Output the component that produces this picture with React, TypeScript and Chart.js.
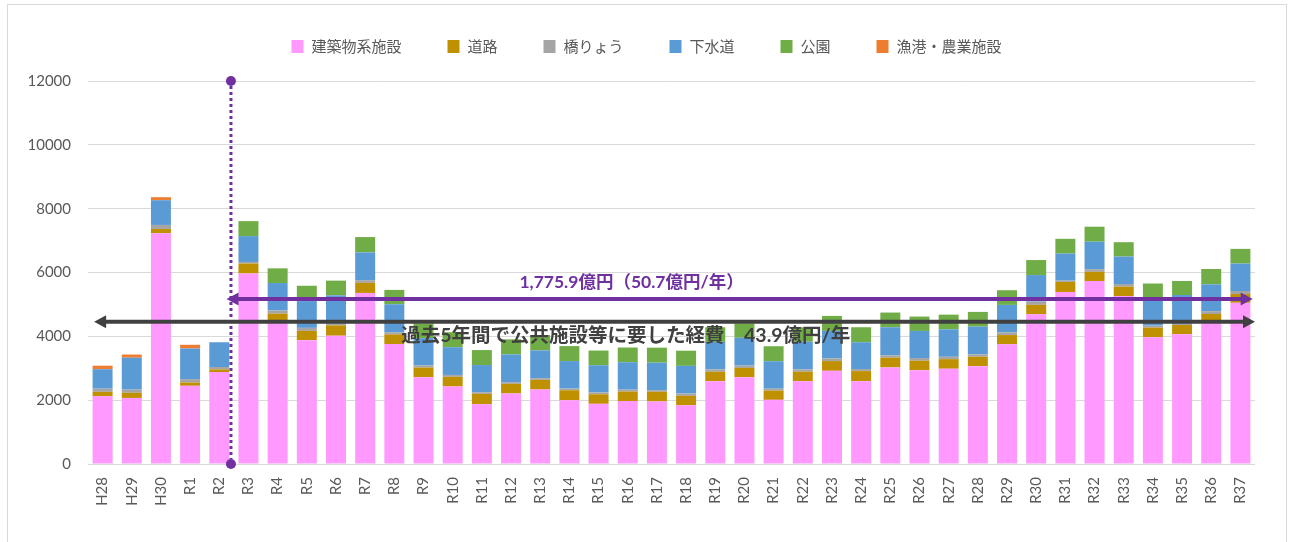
import React, { useEffect, useRef } from "react";
import { Chart, registerables } from "chart.js";

Chart.register(...registerables);

const labels = [
  "H28", "H29", "H30", "R1", "R2", "R3", "R4", "R5", "R6", "R7",
  "R8", "R9", "R10", "R11", "R12", "R13", "R14", "R15", "R16", "R17",
  "R18", "R19", "R20", "R21", "R22", "R23", "R24", "R25", "R26", "R27",
  "R28", "R29", "R30", "R31", "R32", "R33", "R34", "R35", "R36", "R37",
];

const buildings = [
  2120, 2070, 7230, 2450, 2880, 5970, 4420, 3880, 4020, 5360,
  3760, 2720, 2430, 1870, 2210, 2335, 2000, 1885, 1970, 1960,
  1840, 2595, 2720, 2010, 2595, 2920, 2595, 3025, 2940, 2985,
  3065, 3750, 4690, 5390, 5730, 5260, 3970, 4065, 4420, 5050,
];
const roads = [
  140, 160, 135, 105, 85, 310, 290, 290, 325, 315,
  300, 300, 300, 325, 300, 300, 310, 300, 300, 300,
  295, 295, 290, 290, 295, 305, 315, 305, 295, 300,
  295, 290, 295, 315, 290, 295, 300, 290, 280, 275,
];
const bridges = [
  100, 100, 125, 105, 75, 50, 100, 95, 50, 85,
  65, 70, 60, 55, 55, 55, 55, 60, 60, 55,
  75, 75, 75, 60, 75, 85, 65, 75, 85, 75,
  75, 85, 105, 40, 85, 85, 65, 40, 90, 95,
];
const sewers = [
  610, 1000, 775, 960, 775, 810, 860, 840, 890, 870,
  880, 855, 870, 850, 870, 870, 860, 850, 860, 860,
  865, 860, 870, 860, 865, 860, 840, 880, 850, 860,
  870, 860, 830, 850, 860, 860, 880, 900, 840, 860,
];
const parks = [
  0, 0, 0, 0, 0, 470, 460, 480, 460, 480,
  450, 460, 470, 470, 470, 480, 470, 460, 460, 470,
  475, 460, 450, 470, 455, 470, 470, 460, 450, 460,
  460, 460, 470, 460, 470, 450, 440, 440, 480, 460,
];
const fisheries = [
  110, 100, 95, 115, 0, 0, 0, 0, 0, 0,
  0, 0, 0, 0, 0, 0, 0, 0, 0, 0,
  0, 0, 0, 0, 0, 0, 0, 0, 0, 0,
  0, 0, 0, 0, 0, 0, 0, 0, 0, 0,
];

const seriesNames = ["建築物系施設", "道路", "橋りょう", "下水道", "公園", "漁港・農業施設"];
const seriesColors = ["#FF99FF", "#BF9000", "#A5A5A5", "#5B9BD5", "#70AD47", "#ED7D31"];
const seriesData = [buildings, roads, bridges, sewers, parks, fisheries];

const yTicks = [0, 2000, 4000, 6000, 8000, 10000, 12000];

// annotation anchors in data units (category index / value)
const dividerIndex = 4.4;
const totalArrow = { value: 5166, from: 4.25, to: 39.42, text: "1,775.9億円（50.7億円/年）", textIndex: 18.13, textValue: 5690 };
const pastArrow = { value: 4455, from: -0.29, to: 39.5, text: "過去5年間で公共施設等に要した経費　43.9億円/年", textIndex: 17.93, textValue: 4010 };

const PURPLE = "#7030A0";
const DARK = "#404040";
const LATIN = "Lato, 'Noto Sans CJK JP', sans-serif";
const CJK = "'Noto Sans CJK JP', sans-serif";

function drawArrow(ctx: CanvasRenderingContext2D, x1: number, x2: number, y: number, color: string) {
  const hl = 12, hw = 6.5;
  ctx.save();
  ctx.strokeStyle = color;
  ctx.fillStyle = color;
  ctx.lineWidth = 4;
  ctx.beginPath();
  ctx.moveTo(x1 + hl - 1, y);
  ctx.lineTo(x2 - hl + 1, y);
  ctx.stroke();
  ctx.beginPath();
  ctx.moveTo(x1, y);
  ctx.lineTo(x1 + hl, y - hw);
  ctx.lineTo(x1 + hl, y + hw);
  ctx.closePath();
  ctx.fill();
  ctx.beginPath();
  ctx.moveTo(x2, y);
  ctx.lineTo(x2 - hl, y - hw);
  ctx.lineTo(x2 - hl, y + hw);
  ctx.closePath();
  ctx.fill();
  ctx.restore();
}

const overlayPlugin = {
  id: "overlay",
  afterDraw(chart: any) {
    const ctx: CanvasRenderingContext2D = chart.ctx;
    const xs = chart.scales.x;
    const ys = chart.scales.y;

    // legend
    ctx.save();
    ctx.font = `15px ${CJK}`;
    const boxW = 12, boxH = 13, gapText = 8, gapItem = 46;
    const widths = seriesNames.map((n) => boxW + gapText + ctx.measureText(n).width);
    const total = widths.reduce((a, b) => a + b, 0) + gapItem * (widths.length - 1);
    let x = chart.width / 2 - total / 2;
    const ly = 46.5;
    ctx.textBaseline = "middle";
    ctx.textAlign = "left";
    seriesNames.forEach((n, i) => {
      ctx.fillStyle = seriesColors[i];
      ctx.fillRect(x, ly - boxH / 2, boxW, boxH);
      ctx.fillStyle = "#595959";
      ctx.fillText(n, x + boxW + gapText, ly);
      x += widths[i] + gapItem;
    });
    ctx.restore();

    // dotted divider
    const dx = xs.getPixelForValue(dividerIndex);
    const yTop = ys.getPixelForValue(12000);
    const yBot = ys.getPixelForValue(0);
    ctx.save();
    ctx.strokeStyle = PURPLE;
    ctx.lineWidth = 3;
    ctx.setLineDash([3, 3]);
    ctx.beginPath();
    ctx.moveTo(dx, yTop + 5);
    ctx.lineTo(dx, yBot - 5);
    ctx.stroke();
    ctx.setLineDash([]);
    ctx.fillStyle = PURPLE;
    [yTop, yBot].forEach((yy) => {
      ctx.beginPath();
      ctx.arc(dx, yy, 5, 0, Math.PI * 2);
      ctx.fill();
    });
    ctx.restore();

    // arrows
    drawArrow(ctx, xs.getPixelForValue(totalArrow.from), xs.getPixelForValue(totalArrow.to), ys.getPixelForValue(totalArrow.value), PURPLE);
    drawArrow(ctx, xs.getPixelForValue(pastArrow.from), xs.getPixelForValue(pastArrow.to), ys.getPixelForValue(pastArrow.value), DARK);

    // texts
    ctx.save();
    ctx.textAlign = "center";
    ctx.textBaseline = "middle";
    ctx.font = `bold 17.5px ${LATIN}`;
    ctx.fillStyle = PURPLE;
    ctx.fillText(totalArrow.text, xs.getPixelForValue(totalArrow.textIndex), ys.getPixelForValue(totalArrow.textValue));
    ctx.font = `bold 19.5px ${LATIN}`;
    ctx.fillStyle = DARK;
    ctx.fillText(pastArrow.text, xs.getPixelForValue(pastArrow.textIndex), ys.getPixelForValue(pastArrow.textValue));
    ctx.restore();
  },
};

export default function App() {
  const canvasRef = useRef<HTMLCanvasElement>(null);

  useEffect(() => {
    const canvas = canvasRef.current;
    if (!canvas) return;
    const chart = new Chart(canvas, {
      type: "bar",
      data: {
        labels,
        datasets: seriesData.map((d, i) => ({
          label: seriesNames[i],
          data: d,
          backgroundColor: seriesColors[i],
          borderWidth: 0,
          categoryPercentage: 1,
          barPercentage: 0.685,
        })),
      },
      options: {
        responsive: false,
        animation: false,
        devicePixelRatio: 1,
        layout: { padding: { left: 0, right: 38, top: 81, bottom: 0 } },
        plugins: {
          legend: { display: false },
          tooltip: { enabled: false },
        },
        scales: {
          x: {
            stacked: true,
            grid: { display: false, drawTicks: false },
            border: { display: false },
            ticks: {
              color: "#595959",
              font: { family: LATIN, size: 15 },
              minRotation: 90,
              maxRotation: 90,
              padding: 13,
              autoSkip: false,
            },
            afterFit: (s: any) => {
              s.height = 78;
            },
          },
          y: {
            stacked: true,
            min: 0,
            max: 12000,
            grid: { color: "#D9D9D9", lineWidth: 1, drawTicks: false },
            border: { display: false },
            afterBuildTicks: (s: any) => {
              s.ticks = yTicks.map((v) => ({ value: v }));
            },
            ticks: {
              color: "#595959",
              font: { family: LATIN, size: 15 },
              padding: 17,
              callback: (v: any) => String(v),
            },
            afterFit: (s: any) => {
              s.width = 88;
            },
          },
        },
      },
      plugins: [overlayPlugin],
    });
    return () => chart.destroy();
  }, []);

  return (
    <div style={{ position: "fixed", left: 0, top: 0, width: 1293, height: 542, overflow: "hidden", background: "#fff" }}>
      <div
        style={{
          position: "absolute",
          left: 7,
          top: 4,
          width: 1280,
          height: 600,
          border: "1px solid #D9D9D9",
          boxSizing: "border-box",
        }}
      />
      <canvas ref={canvasRef} width={1293} height={542} style={{ position: "absolute", left: 0, top: 0 }} />
    </div>
  );
}
